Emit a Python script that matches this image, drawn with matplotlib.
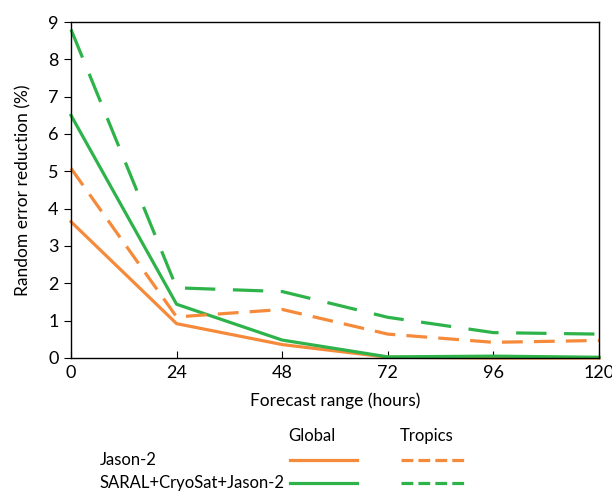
import matplotlib.pyplot as plt
from matplotlib.lines import Line2D

plt.rcParams['font.family'] = ['Lato', 'DejaVu Sans']

hours = [0, 24, 48, 72, 96, 120]
jason_global = [3.65, 0.92, 0.36, 0.02, 0.0, 0.0]
saral_global = [6.5, 1.44, 0.48, 0.03, 0.05, 0.02]
jason_tropics = [5.08, 1.1, 1.3, 0.64, 0.42, 0.47]
saral_tropics = [8.8, 1.88, 1.78, 1.09, 0.68, 0.64]

orange = '#F58A3A'
green = '#2DB34A'
lw = 2.3

fig = plt.figure(figsize=(6.12, 4.92), dpi=100)
ax = fig.add_axes([71/612, 1 - 358/492, 528/612, 336/492])

ax.plot(hours, jason_global, color=orange, lw=lw, clip_on=False)
ax.plot(hours, saral_global, color=green, lw=lw, clip_on=False)
ax.plot(hours, jason_tropics, color=orange, lw=lw, dashes=(6.5, 3.5), clip_on=False)
ax.plot(hours, saral_tropics, color=green, lw=lw, dashes=(9.5, 5.5), clip_on=False)

ax.set_xlim(0, 120)
ax.set_ylim(0, 9)
ax.set_xticks(hours)
ax.set_yticks(range(10))
fs = 12.5
ax.tick_params(axis='x', direction='in', length=5, labelsize=13, pad=5)
ax.tick_params(axis='y', direction='out', length=5, labelsize=13, pad=4)
for s in ax.spines.values():
    s.set_linewidth(1.0)
ax.set_xlabel('Forecast range (hours)', fontsize=fs, labelpad=8)
ax.set_ylabel('Random error reduction (%)', fontsize=fs, labelpad=12)

# legend laid out as a small table under the axes
lfs = 12
fig.text(288/612, 1 - 436/492, 'Global', fontsize=lfs, va='center')
fig.text(400/612, 1 - 436/492, 'Tropics', fontsize=lfs, va='center')
rows = [('Jason-2', orange, 460), ('SARAL+CryoSat+Jason-2', green, 483)]
for label, c, y in rows:
    yf = 1 - y / 492
    fig.text(100/612, yf, label, fontsize=lfs, va='center')
    fig.add_artist(Line2D([290/612, 357/612], [yf, yf], color=c, lw=lw))
    fig.add_artist(Line2D([401/612, 467/612], [yf, yf], color=c, lw=lw, dashes=(3.7, 1.6)))

fig.savefig('out.png', dpi=100)
